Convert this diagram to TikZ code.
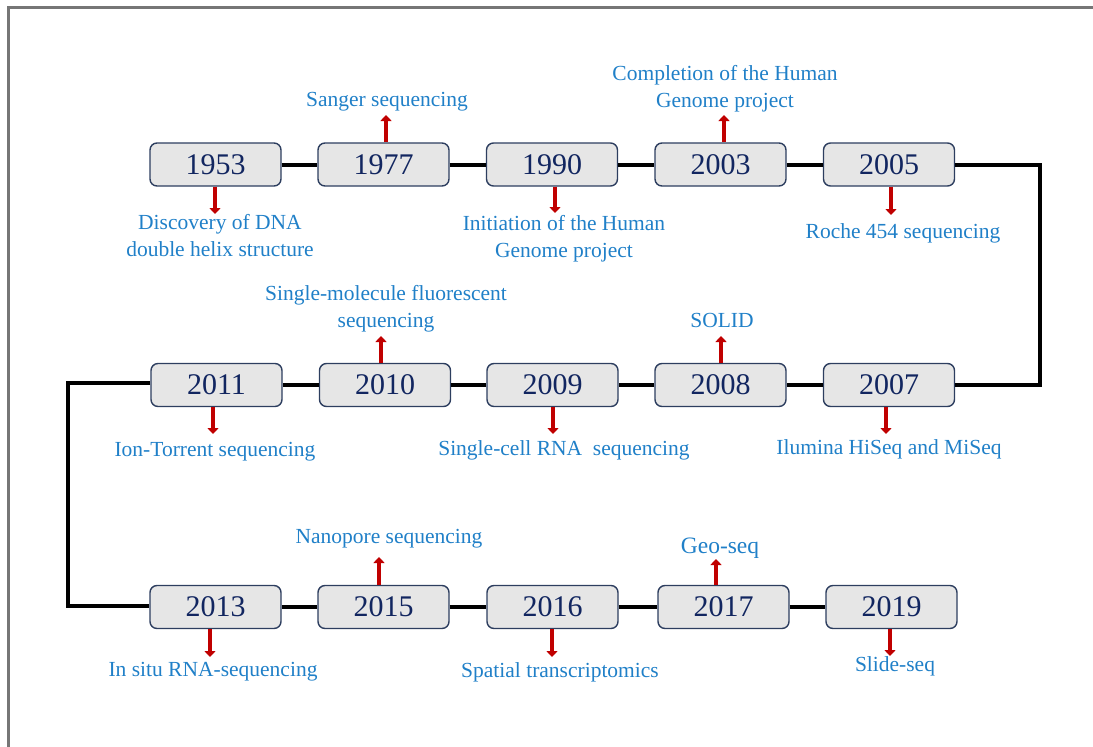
\documentclass[tikz,border=0pt]{standalone}
\usepackage{fontspec}
\setmainfont{Liberation Serif}
\usetikzlibrary{arrows.meta}
\definecolor{yearcol}{RGB}{18,38,96}
\definecolor{boxline}{RGB}{45,62,95}
\definecolor{boxfill}{RGB}{230,230,230}
\definecolor{labcol}{RGB}{32,128,200}
\definecolor{arrred}{RGB}{192,0,0}
\definecolor{framecol}{RGB}{118,118,118}
\tikzset{
  yearbox/.style={draw=boxline, line width=1.4pt, fill=boxfill, rounded corners=7pt,
    minimum width=131pt, minimum height=43pt, inner sep=0pt, text=yearcol,
    font=\fontsize{30}{34}\selectfont},
  lab/.style={text=labcol, align=center, inner sep=0pt, anchor=base,
    font=\fontsize{21.5}{26.5}\selectfont},
  redarr/.style={draw=arrred, line width=3.5pt, -{Triangle[width=11pt,length=6pt]}},
  conn/.style={draw=black, line width=4pt},
  framestyle/.style={draw=framecol, line width=2.5pt}
}
\begin{document}
\begin{tikzpicture}[x=1pt,y=-1pt]
\useasboundingbox (0,0) rectangle (1093,747);
\draw[framestyle] (8.5,747) -- (8.5,7.5) -- (1093,7.5);
% row 1
\node[yearbox] (b1953) at (215.5,164.5) {1953};
\node[yearbox] (b1977) at (383.5,164.5) {1977};
\node[yearbox] (b1990) at (552,164.5) {1990};
\node[yearbox] (b2003) at (720.5,164.5) {2003};
\node[yearbox] (b2005) at (889,164.5) {2005};
% row 2
\node[yearbox] (b2011) at (216.5,385) {2011};
\node[yearbox] (b2010) at (385,385) {2010};
\node[yearbox] (b2009) at (552.5,385) {2009};
\node[yearbox] (b2008) at (720.5,385) {2008};
\node[yearbox] (b2007) at (889,385) {2007};
% row 3
\node[yearbox] (b2013) at (215.5,607) {2013};
\node[yearbox] (b2015) at (383.5,607) {2015};
\node[yearbox] (b2016) at (552.5,607) {2016};
\node[yearbox] (b2017) at (723.5,607) {2017};
\node[yearbox] (b2019) at (891.5,607) {2019};
% connectors
\draw[conn] (b1953) -- (b1977);
\draw[conn] (b1977) -- (b1990);
\draw[conn] (b1990) -- (b2003);
\draw[conn] (b2003) -- (b2005);
\coordinate (rt) at (1040,164.5);
\coordinate (rb) at (1040,385);
\draw[conn] (b2005.east) -- (rt) -- (rb) -- (b2007.east);
\draw[conn] (b2007) -- (b2008);
\draw[conn] (b2008) -- (b2009);
\draw[conn] (b2009) -- (b2010);
\draw[conn] (b2010) -- (b2011);
\coordinate (lt) at (68,383);
\coordinate (lb) at (68,606);
\draw[conn] (b2011.west |- lt) -- (lt) -- (lb) -- (b2013.west |- lb);
\draw[conn] (b2013) -- (b2015);
\draw[conn] (b2015) -- (b2016);
\draw[conn] (b2016) -- (b2017);
\draw[conn] (b2017) -- (b2019);
% arrow tips
\coordinate (a1953) at (215,214);
\coordinate (a1977) at (386,115);
\coordinate (a1990) at (555,213);
\coordinate (a2003) at (724,115);
\coordinate (a2005) at (891,215);
\coordinate (a2007) at (886,434);
\coordinate (a2008) at (721,336);
\coordinate (a2009) at (553,434);
\coordinate (a2010) at (381,336);
\coordinate (a2011) at (213,434);
\coordinate (a2013) at (210,657);
\coordinate (a2015) at (379,557);
\coordinate (a2016) at (552,657);
\coordinate (a2017) at (716,559);
\coordinate (a2019) at (890,656);
\foreach \y/\s in {1953/south,1977/north,1990/south,2003/north,2005/south,
  2007/south,2008/north,2009/south,2010/north,2011/south,
  2013/south,2015/north,2016/south,2017/north,2019/south}
  \draw[redarr] (b\y.\s -| a\y) -- (a\y);
% labels
\node[lab] (l1953) at (220,256) {Discovery of DNA\\double helix structure};
\node[lab] (l1977) at (387,106) {Sanger sequencing};
\node[lab] (l1990) at (564,257) {Initiation of the Human\\Genome project};
\node[lab] (l2003) at (725,107) {Completion of the Human\\Genome project};
\node[lab] (l2005) at (903,238) {Roche 454 sequencing};
\node[lab] (l2007) at (889,454) {Ilumina HiSeq and MiSeq};
\node[lab] (l2008) at (722,327) {SOLID};
\node[lab] (l2009) at (564,455) {Single-cell RNA\ \ sequencing};
\node[lab] (l2010) at (386,327) {Single-molecule fluorescent\\sequencing};
\node[lab] (l2011) at (215,456) {Ion-Torrent sequencing};
\node[lab] (l2013) at (213,676) {In situ RNA-sequencing};
\node[lab] (l2015) at (389,543) {Nanopore sequencing};
\node[lab] (l2016) at (560,677) {Spatial transcriptomics};
\node[lab, font=\fontsize{23.5}{28}\selectfont] (l2017) at (720,553) {Geo-seq};
\node[lab] (l2019) at (895,671) {Slide-seq};
\end{tikzpicture}
\end{document}
